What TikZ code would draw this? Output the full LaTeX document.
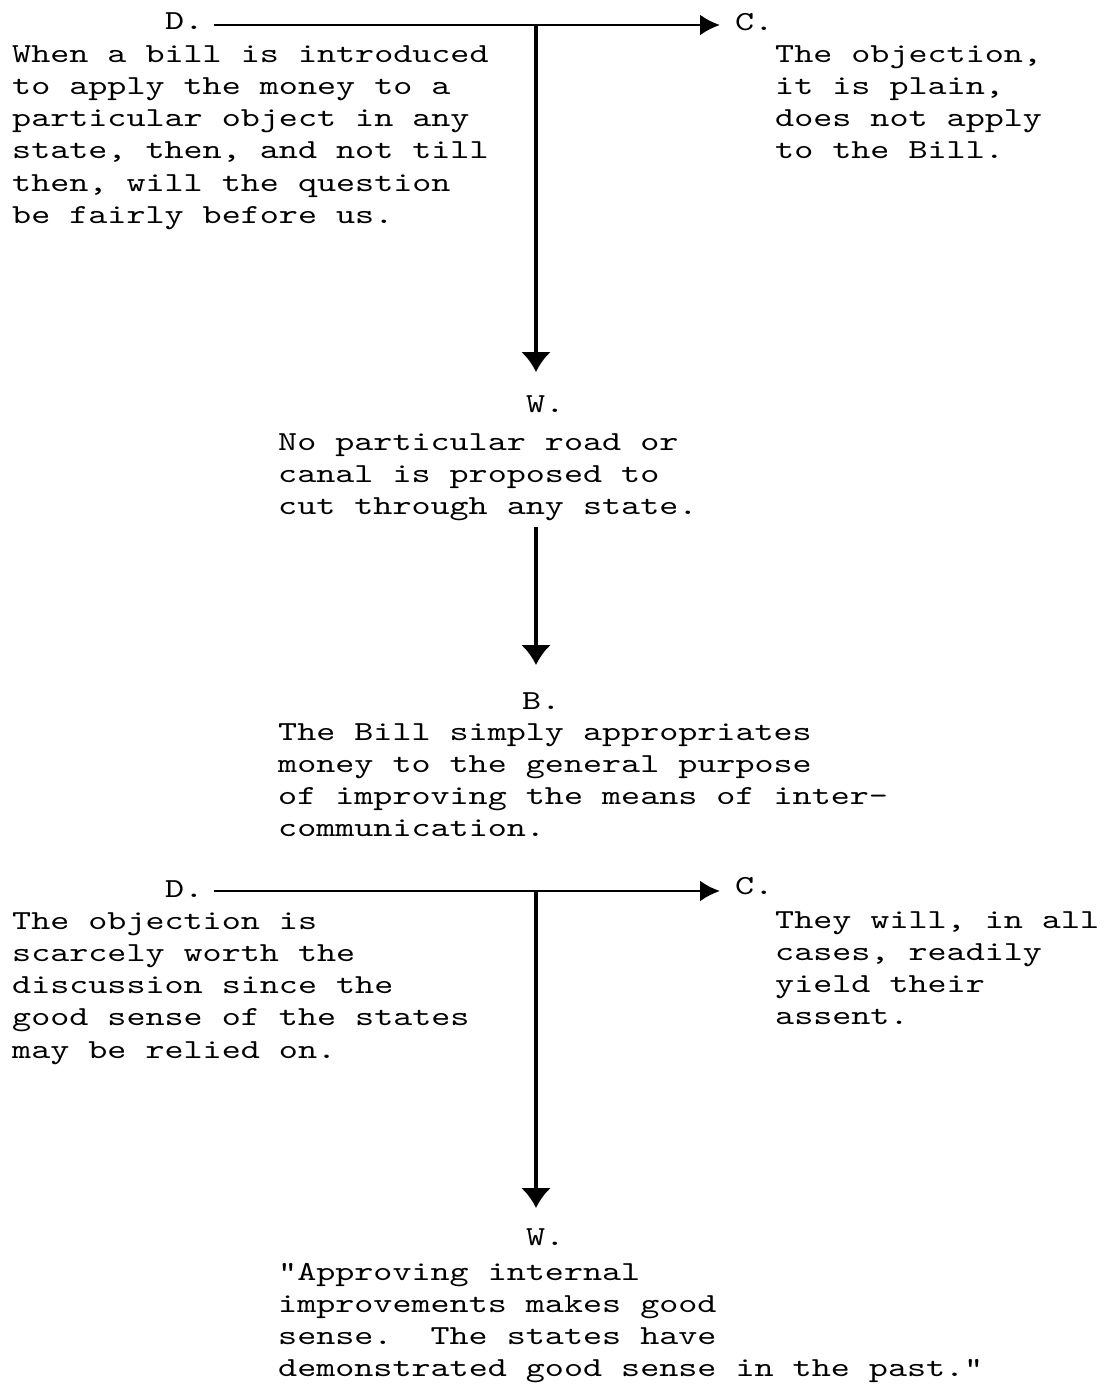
\documentclass[tikz,border=0pt]{standalone}
\usepackage{fontspec}
\usetikzlibrary{arrows.meta,calc}
\newfontfamily\typewriter{lmmono10-regular.otf}[FakeStretch=1.32]
\newcommand\tlines[1]{\begin{tabular}[t]{@{}l@{}}#1\end{tabular}}
\tikzset{
  txt/.style={font=\typewriter\fontsize{27.5}{32.3}\selectfont\frenchspacing,
              inner sep=0pt, anchor=base west},
  harr/.style={line width=2.8pt,-{Latex[length=20pt,width=21pt]}},
  varr/.style={line width=3.2pt,-{Latex[length=20pt,width=30pt]}},
}
\begin{document}
\begin{tikzpicture}[x=1pt,y=1pt]
\useasboundingbox (0,0) rectangle (1105,-1384);

% first exchange: D. and C. on a shared line
\node[txt] (d1) at (165,-29) {D.};
\node[txt] (c1) at (735,-30) {C.};
\coordinate (j1) at (536,-25);
\node[txt] (dtext1) at (12,-62) {\tlines{When a bill is introduced\\
to apply the money to a\\
particular object in any\\
state, then, and not till\\
then, will the question\\
be fairly before us.}};
\node[txt] (ctext1) at (775,-62) {\tlines{The objection,\\
it is plain,\\
does not apply\\
to the Bill.}};

\node[txt] (w1) at (526,-412) {W.};
\node[txt] (wtext1) at (278,-450) {\tlines{No particular road or\\
canal is proposed to\\
cut through any state.}};

\node[txt] (b1) at (522,-709) {B.};
\node[txt] (btext) at (278,-740) {\tlines{The Bill simply appropriates\\
money to the general purpose\\
of improving the means of inter-\\
communication.}};

% second exchange
\node[txt] (d2) at (165,-897) {D.};
\node[txt] (c2) at (735,-894) {C.};
\coordinate (j2) at (536,-891);
\node[txt] (dtext2) at (12,-929) {\tlines{The objection is\\
scarcely worth the\\
discussion since the\\
good sense of the states\\
may be relied on.}};
\node[txt] (ctext2) at (775,-928) {\tlines{They will, in all\\
cases, readily\\
yield their\\
assent.}};

\node[txt] (w2) at (526,-1245) {W.};
\node[txt] (wtext2) at (278,-1280) {\tlines{"Approving internal\\
improvements makes good\\
sense.\ \ The states have\\
demonstrated good sense in the past."}};

% connectors
\draw[harr] ($(d1.east |- j1)+(10,0)$) -- ($(c1.west |- j1)+(-15,0)$);
\draw[varr, shorten >=23pt] (j1) -- (j1 |- w1.north);
\draw[varr, shorten <=3pt, shorten >=27pt] (j1 |- wtext1.south) -- (j1 |- b1.north);
\draw[harr] ($(d2.east |- j2)+(10,0)$) -- ($(c2.west |- j2)+(-15,0)$);
\draw[varr, shorten >=20pt] (j2) -- (j2 |- w2.north);
\end{tikzpicture}
\end{document}
